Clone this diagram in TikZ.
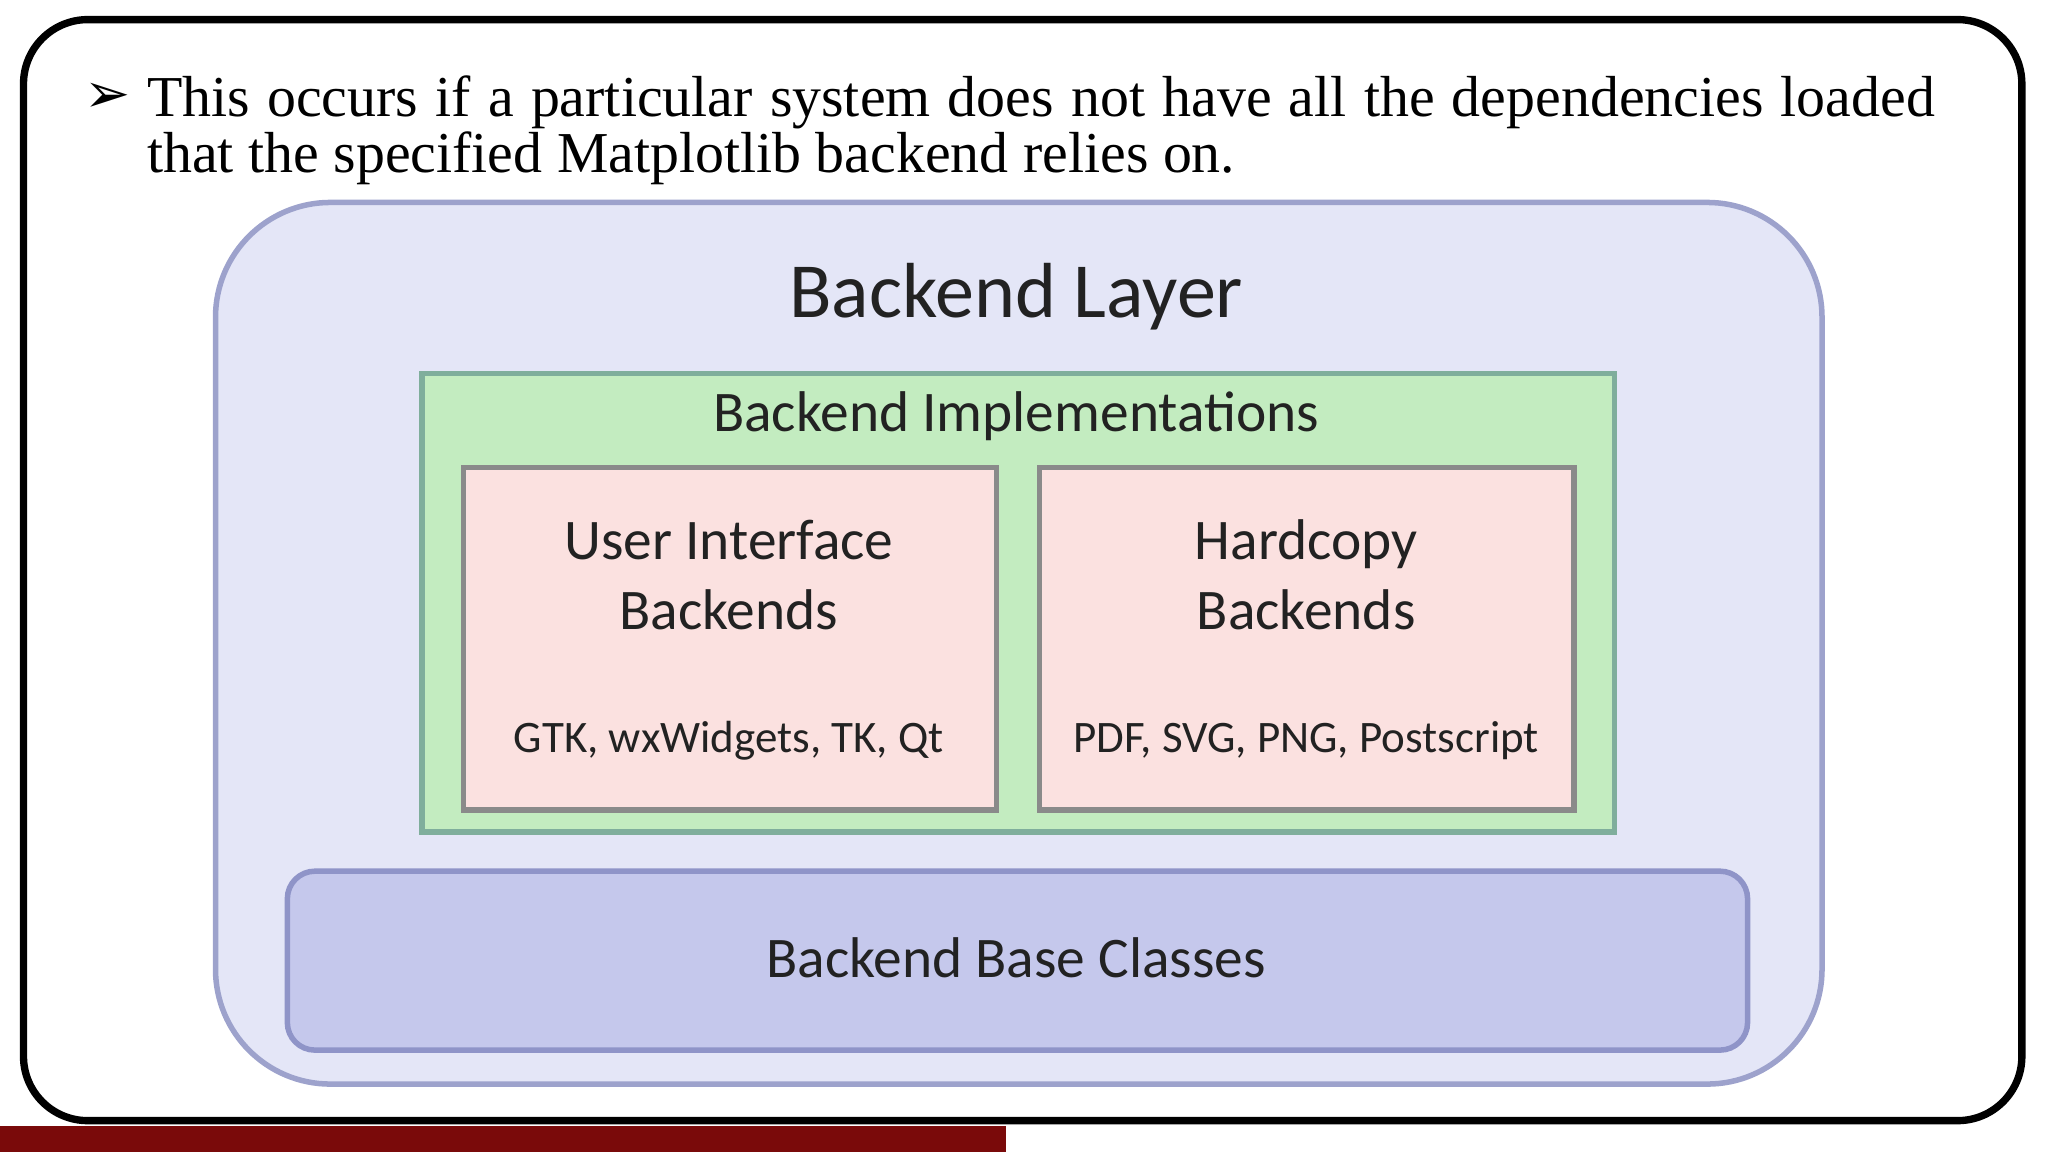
\documentclass[tikz,border=0pt]{standalone}
\usepackage{fontspec}
\setmainfont{Liberation Serif}
\newfontfamily\calfnt{Carlito}
\newfontfamily\djv{DejaVu Sans}
\definecolor{lay}{HTML}{E4E6F7}
\definecolor{layb}{HTML}{9DA2CC}
\definecolor{grn}{HTML}{C3ECC0}
\definecolor{grnb}{HTML}{7FAE9C}
\definecolor{pnk}{HTML}{FBE1E0}
\definecolor{pnkb}{HTML}{8A8A8A}
\definecolor{bas}{HTML}{C5C8EC}
\definecolor{basb}{HTML}{8F94C8}
\definecolor{dred}{HTML}{7A0A0A}
\definecolor{txt}{HTML}{222222}
\tikzset{
 box/.style={draw, line width=1.2pt, inner sep=0pt},
 lbl/.style={text=txt, inner sep=0pt},
}
\begin{document}
\begin{tikzpicture}[x=0.01cm,y=-0.01cm]
\useasboundingbox (0,0) rectangle (1568,882);
\fill[dred] (0,862) rectangle (770,882);
\draw[line width=1.6pt, rounded corners=14pt] (18,15) rectangle (1548,858);
\node (arr) at (82,75) {\djv\fontsize{12}{14}\selectfont ➢};
\node[anchor=north west, inner sep=0pt] (txt) at (112,57) {\parbox{13.68cm}{\fontsize{12.6}{12.2}\selectfont This occurs if a particular system does not have all the dependencies loaded that the specified Matplotlib backend relies on.}};
\draw[box, draw=layb, fill=lay, rounded corners=25pt] (165,155) rectangle (1395,830);
\node[lbl, font=\calfnt\fontsize{17}{20}\selectfont] (bl) at (778,227) {Backend Layer};
\draw[box, draw=grnb, fill=grn] (323,286) rectangle (1236,637);
\node[lbl, font=\calfnt\fontsize{12.5}{15}\selectfont] (bi) at (778,319) {Backend Implementations};
\draw[box, draw=pnkb, fill=pnk] (355,358) rectangle (763,620);
\draw[box, draw=pnkb, fill=pnk] (796,358) rectangle (1205,620);
\node[lbl, font=\calfnt\fontsize{12.5}{15.3}\selectfont, align=center] (ui) at (558,440) {User Interface\\Backends};
\node[lbl, font=\calfnt\fontsize{12.5}{15.3}\selectfont, align=center] (hc) at (1000,440) {Hardcopy\\Backends};
\node[lbl, font=\calfnt\fontsize{9.8}{12}\selectfont] (uil) at (558,567) {GTK, wxWidgets, TK, Qt};
\node[lbl, font=\calfnt\fontsize{9.8}{12}\selectfont] (hcl) at (1000,567) {PDF, SVG, PNG, Postscript};
\draw[box, draw=basb, fill=bas, rounded corners=6pt] (220,667) rectangle (1338,804);
\node[lbl, font=\calfnt\fontsize{12.5}{15}\selectfont] (bb) at (778,733) {Backend Base Classes};
\end{tikzpicture}
\end{document}
